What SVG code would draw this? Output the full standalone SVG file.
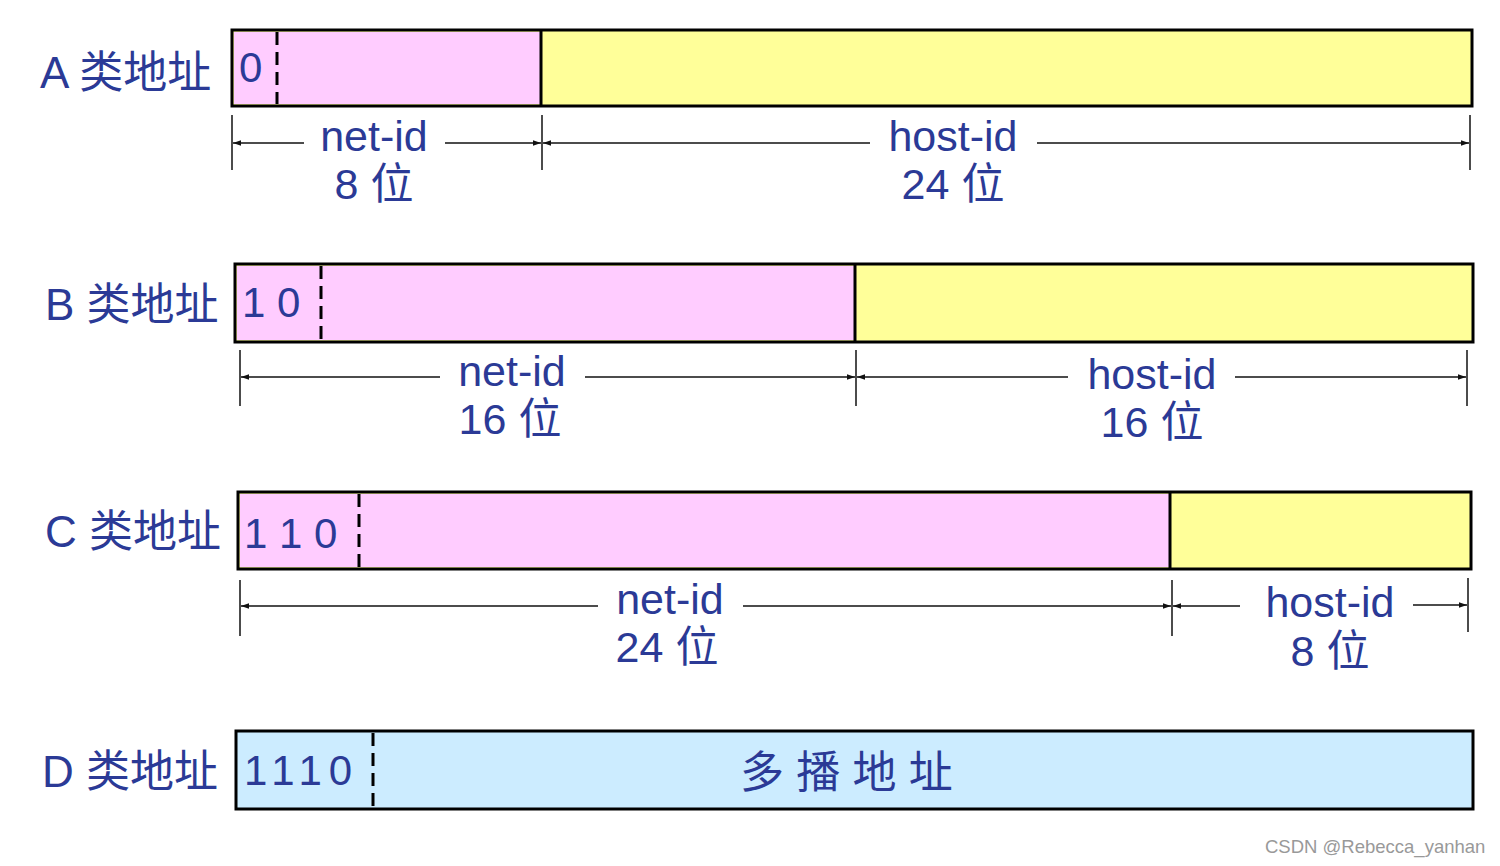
<svg xmlns="http://www.w3.org/2000/svg" width="1500" height="866" viewBox="0 0 1500 866">
<style>
.lbl{font-family:"Liberation Sans","Noto Sans CJK SC",sans-serif;fill:#2B3A96;font-size:44px}
.dim{font-family:"Liberation Sans","Noto Sans CJK SC",sans-serif;fill:#2B3A96;font-size:43px;text-anchor:middle}
.bit{font-family:"Liberation Sans",sans-serif;fill:#2B3A96;font-size:42px}
.box{stroke:#000;stroke-width:3}
.div{stroke:#000;stroke-width:3}
.dash{stroke:#000;stroke-width:3;stroke-dasharray:13 7}
.tick{stroke:#111;stroke-width:1.5}
.arr{stroke:#111;stroke-width:1.5;fill:none;marker-end:url(#ah)}
.wm{font-family:"Liberation Sans",sans-serif;fill:#999;font-size:18.5px}
</style>
<defs>
<marker id="ah" viewBox="0 0 10 10" refX="10" refY="5" markerWidth="11" markerHeight="8" markerUnits="userSpaceOnUse" orient="auto">
<path d="M0,1.5 L10,5 L0,8.5 Z" fill="#111"/>
</marker>
</defs>
<rect width="1500" height="866" fill="#fff"/>

<g id="classA">
<text class="lbl" x="40" y="88">A 类地址</text>
<rect class="box" x="232" y="30" width="1240" height="76" fill="#FFFF99"/>
<rect x="234" y="32" width="307" height="72" fill="#FFCCFF"/>
<line class="div" x1="541" y1="30" x2="541" y2="106"/>
<line class="dash" x1="277" y1="32" x2="277" y2="104"/>
<text class="bit" x="239" y="82">0</text>
</g>

<g id="classB">
<text class="lbl" x="45" y="320">B 类地址</text>
<rect class="box" x="235" y="264" width="1238" height="78" fill="#FFFF99"/>
<rect x="237" y="266" width="618" height="74" fill="#FFCCFF"/>
<line class="div" x1="855" y1="264" x2="855" y2="342"/>
<line class="dash" x1="321" y1="266" x2="321" y2="340"/>
<text class="bit" x="242" y="317">1 0</text>
</g>

<g id="classC">
<text class="lbl" x="45" y="547">C 类地址</text>
<rect class="box" x="238" y="492" width="1233" height="77" fill="#FFFF99"/>
<rect x="240" y="494" width="930" height="73" fill="#FFCCFF"/>
<line class="div" x1="1170" y1="492" x2="1170" y2="569"/>
<line class="dash" x1="359" y1="494" x2="359" y2="567"/>
<text class="bit" x="244" y="548">1 1 0</text>
</g>

<g id="classD">
<text class="lbl" x="42" y="787">D 类地址</text>
<rect class="box" x="236" y="731" width="1237" height="78" fill="#CCECFF"/>
<line class="dash" x1="373" y1="733" x2="373" y2="807"/>
<text class="bit" x="244" y="785" letter-spacing="7">1110</text>
<text class="lbl" x="740" y="788" font-size="42">多 播 地 址</text>
</g>

<g id="dimA">
<text class="dim" x="374" y="151">net-id</text>
<text class="dim" x="374" y="199">8 位</text>
<text class="dim" x="953" y="151">host-id</text>
<text class="dim" x="953" y="199">24 位</text>
</g>
<g id="dimB">
<text class="dim" x="512" y="386">net-id</text>
<text class="dim" x="510" y="434">16 位</text>
<text class="dim" x="1152" y="389">host-id</text>
<text class="dim" x="1152" y="437">16 位</text>
</g>
<g id="dimC">
<text class="dim" x="670" y="614">net-id</text>
<text class="dim" x="667" y="662">24 位</text>
<text class="dim" x="1330" y="617">host-id</text>
<text class="dim" x="1330" y="666">8 位</text>
</g>

<g id="connectors">
<line class="tick" x1="232" y1="115" x2="232" y2="170"/>
<line class="tick" x1="542" y1="115" x2="542" y2="170"/>
<line class="tick" x1="1470" y1="115" x2="1470" y2="170"/>
<line class="arr" x1="304" y1="143" x2="233" y2="143"/>
<line class="arr" x1="445" y1="143" x2="541" y2="143"/>
<line class="arr" x1="870" y1="143" x2="543" y2="143"/>
<line class="arr" x1="1037" y1="143" x2="1469" y2="143"/>

<line class="tick" x1="240" y1="350" x2="240" y2="406"/>
<line class="tick" x1="856" y1="350" x2="856" y2="406"/>
<line class="tick" x1="1467" y1="350" x2="1467" y2="406"/>
<line class="arr" x1="440" y1="377" x2="241" y2="377"/>
<line class="arr" x1="585" y1="377" x2="855" y2="377"/>
<line class="arr" x1="1068" y1="377" x2="857" y2="377"/>
<line class="arr" x1="1235" y1="377" x2="1466" y2="377"/>

<line class="tick" x1="240" y1="580" x2="240" y2="636"/>
<line class="tick" x1="1172" y1="580" x2="1172" y2="636"/>
<line class="tick" x1="1468" y1="578" x2="1468" y2="632"/>
<line class="arr" x1="598" y1="606" x2="241" y2="606"/>
<line class="arr" x1="743" y1="606" x2="1171" y2="606"/>
<line class="arr" x1="1240" y1="606" x2="1173" y2="606"/>
<line class="arr" x1="1413" y1="605" x2="1467" y2="605"/>
</g>

<text class="wm" x="1265" y="853">CSDN @Rebecca_yanhan</text>
</svg>
